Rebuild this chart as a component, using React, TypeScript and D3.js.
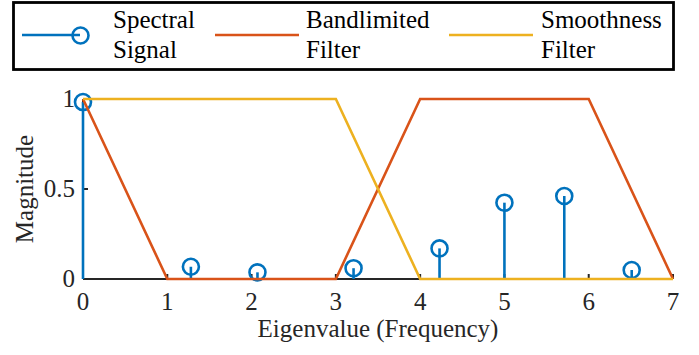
import React from 'react';
import * as d3 from 'd3';

const stemX = [0, 1.28, 2.07, 3.21, 4.23, 5.0, 5.71, 6.51];
const stemY = [0.983, 0.068, 0.037, 0.06, 0.17, 0.424, 0.461, 0.05];

const bandX = [0, 1, 3, 4, 6, 7];
const bandY = [1, 0, 0, 1, 1, 0];

const smoothX = [0, 3, 4, 7];
const smoothY = [1, 1, 0, 0];

const xTicks = [0, 1, 2, 3, 4, 5, 6, 7];
const yTicks = [0, 0.5, 1];

const legendLabels = [
  ['Spectral', 'Signal'],
  ['Bandlimited', 'Filter'],
  ['Smoothness', 'Filter'],
];

const BLUE = '#0072BD';
const ORANGE = '#D95319';
const YELLOW = '#EDB120';
const AXIS = '#262626';
const FONT = 'Liberation Serif, Times New Roman, serif';

const App = () => {
  const Width = 699;
  const Height = 355;
  const margin = { top: 99, right: 26, bottom: 76, left: 83 };

  const xScale = d3.scaleLinear().domain([0, 7]).range([margin.left, Width - margin.right]);
  const yScale = d3.scaleLinear().domain([0, 1]).range([Height - margin.bottom, margin.top]);

  const line = d3
    .line<[number, number]>()
    .x((d) => xScale(d[0]))
    .y((d) => yScale(d[1]));

  const bandPath = line(bandX.map((x, i) => [x, bandY[i]]));
  const smoothPath = line(smoothX.map((x, i) => [x, smoothY[i]]));

  const x0 = xScale(0);
  const x1 = xScale(7);
  const y0 = yScale(0);
  const y1 = yScale(1);
  const tickLen = 5;
  const lw = 2.6;

  // legend
  const legendColors = [BLUE, ORANGE, YELLOW];
  const legendSymX = [22, 215, 449];
  const legendTextX = [113, 306, 541];

  return (
    <svg width={Width} height={Height} style={{ position: 'absolute', left: 0, top: 0, background: '#fff' }}>
      <rect x={0} y={0} width={Width} height={Height} fill="#fff" />

      {/* axes (drawn below the data) */}
      <g stroke={AXIS} strokeWidth={2} fill="none">
        <line x1={x0} y1={y0} x2={x1} y2={y0} />
        <line x1={x0} y1={y0} x2={x0} y2={y1} />
        {xTicks.map((t) => (
          <line key={'xt' + t} x1={xScale(t)} x2={xScale(t)} y1={y0} y2={y0 - tickLen} />
        ))}
        {yTicks.map((t) => (
          <line key={'yt' + t} x1={x0} x2={x0 + tickLen} y1={yScale(t)} y2={yScale(t)} />
        ))}
      </g>

      <g fontFamily={FONT} fontSize={25} fill={AXIS}>
        {xTicks.map((t) => (
          <text key={'xl' + t} x={xScale(t)} y={y0 + 31} textAnchor="middle">
            {t}
          </text>
        ))}
        {yTicks.map((t) => (
          <text key={'yl' + t} x={x0 - 8} y={yScale(t) + 8} textAnchor="end">
            {t}
          </text>
        ))}
        <text x={(x0 + x1) / 2} y={337} textAnchor="middle">
          Eigenvalue (Frequency)
        </text>
        <text transform={`translate(33, ${(y0 + y1) / 2}) rotate(-90)`} textAnchor="middle">
          Magnitude
        </text>
      </g>

      {/* stems */}
      <g stroke={BLUE} strokeWidth={lw} fill="none">
        {stemX.map((x, i) => (
          <g key={'s' + i}>
            <line x1={xScale(x)} x2={xScale(x)} y1={yScale(0)} y2={yScale(stemY[i])} />
            <circle cx={xScale(x)} cy={yScale(stemY[i])} r={8} />
          </g>
        ))}
      </g>

      <path d={bandPath || ''} fill="none" stroke={ORANGE} strokeWidth={lw} />
      <path d={smoothPath || ''} fill="none" stroke={YELLOW} strokeWidth={lw} />

      {/* legend */}
      <rect x={13.5} y={2.5} width={660} height={67} fill="#fff" stroke="#000" strokeWidth={2.8} />
      {legendLabels.map((lab, i) => (
        <g key={'lg' + i}>
          {i === 0 ? (
            <g stroke={BLUE} strokeWidth={lw} fill="none">
              <line x1={legendSymX[i]} x2={80} y1={35} y2={35} />
              <circle cx={80.5} cy={35.5} r={8} />
            </g>
          ) : (
            <line
              x1={legendSymX[i]}
              x2={legendSymX[i] + 84}
              y1={35}
              y2={35}
              stroke={legendColors[i]}
              strokeWidth={lw}
            />
          )}
          <text x={legendTextX[i]} y={28} fontFamily={FONT} fontSize={25} fill="#000">
            {lab[0]}
          </text>
          <text x={legendTextX[i]} y={58} fontFamily={FONT} fontSize={25} fill="#000">
            {lab[1]}
          </text>
        </g>
      ))}
    </svg>
  );
};

export default App;
